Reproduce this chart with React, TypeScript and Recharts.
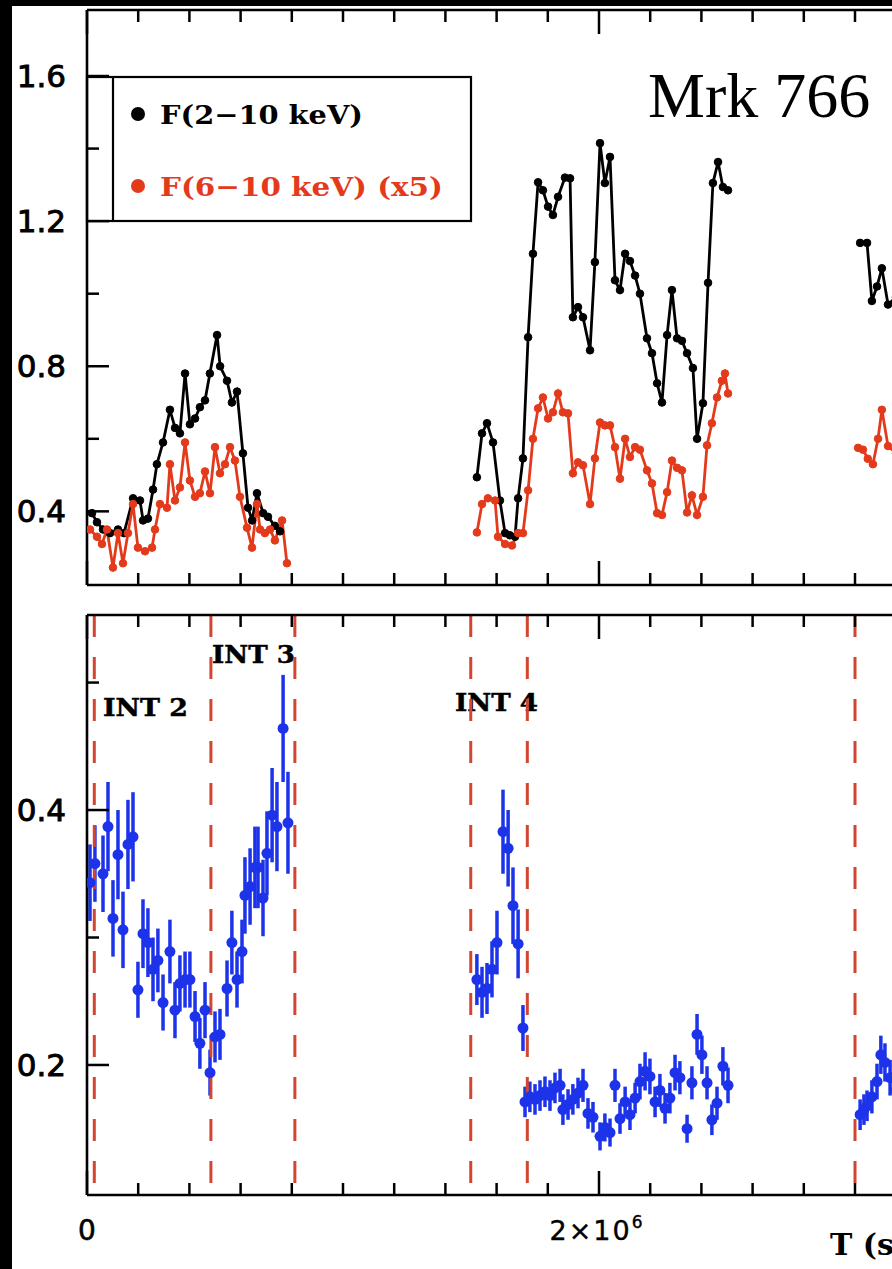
import React from 'react';
import { ComposedChart, Line, Scatter, XAxis, YAxis, ErrorBar, ReferenceLine } from 'recharts';

// ---------- data (time in ks) ----------
const blackT1 = [19.5, 39, 62.5, 90, 121, 144.5, 180, 207, 219, 238, 258, 273, 297, 324, 344, 363, 383, 402, 422, 441, 461, 480, 508, 520, 547, 566, 586, 609, 629, 645, 664, 688, 707, 734, 754];
const blackF1 = [0.395, 0.37, 0.35, 0.34, 0.35, 0.34, 0.436, 0.43, 0.375, 0.38, 0.46, 0.53, 0.59, 0.68, 0.63, 0.615, 0.78, 0.64, 0.656, 0.687, 0.706, 0.78, 0.886, 0.8, 0.76, 0.7, 0.73, 0.56, 0.41, 0.375, 0.45, 0.395, 0.385, 0.36, 0.345];
const redT1 = [11.7, 39, 58.6, 78, 101.5, 121, 140.6, 160, 179.7, 199, 226.6, 254, 265.6, 285, 312.5, 324, 343.7, 363, 383, 402, 422, 441, 461, 480.5, 500, 519.5, 539, 558.6, 578, 597.6, 625, 644.5, 664, 676, 695, 715, 734, 762, 781];
const redF1 = [0.35, 0.33, 0.31, 0.35, 0.245, 0.34, 0.257, 0.34, 0.42, 0.3, 0.29, 0.3, 0.35, 0.42, 0.41, 0.53, 0.43, 0.466, 0.59, 0.485, 0.44, 0.45, 0.51, 0.45, 0.577, 0.505, 0.53, 0.577, 0.54, 0.44, 0.355, 0.3, 0.42, 0.35, 0.34, 0.35, 0.32, 0.375, 0.257];

const blackT2 = [1523, 1543, 1562.5, 1586, 1613, 1633, 1652, 1672, 1684, 1703, 1723, 1742, 1762, 1781, 1801, 1820, 1840, 1867, 1887, 1898, 1918, 1937.5, 1965, 1984, 2004, 2023, 2043, 2062.5, 2082, 2102, 2121, 2141, 2160, 2187.5, 2207, 2227, 2246, 2266, 2285, 2305, 2324, 2344, 2367, 2383, 2406, 2426, 2445, 2465, 2484, 2504];
const blackF2 = [0.494, 0.615, 0.643, 0.59, 0.43, 0.34, 0.334, 0.33, 0.436, 0.546, 0.88, 1.11, 1.307, 1.285, 1.24, 1.217, 1.267, 1.32, 1.318, 0.935, 0.963, 0.935, 0.844, 1.087, 1.415, 1.305, 1.377, 1.037, 1.01, 1.11, 1.09, 1.05, 1.0, 0.877, 0.836, 0.753, 0.7, 0.886, 1.01, 0.877, 0.87, 0.836, 0.795, 0.6, 0.698, 1.03, 1.305, 1.363, 1.294, 1.285];
const redT2 = [1523, 1543, 1566, 1594, 1605.5, 1633, 1660, 1684, 1703, 1723, 1742, 1762, 1781, 1801, 1820, 1840, 1859, 1879, 1898, 1918, 1937.5, 1965, 1984, 2004, 2023, 2043, 2062.5, 2082, 2102, 2121, 2141, 2160, 2187.5, 2207, 2227, 2246, 2266, 2285, 2305, 2324, 2344, 2363, 2383, 2406, 2422, 2441, 2461, 2480, 2492, 2504];
const redF2 = [0.342, 0.42, 0.436, 0.43, 0.33, 0.31, 0.306, 0.34, 0.34, 0.458, 0.6, 0.684, 0.714, 0.656, 0.673, 0.725, 0.673, 0.67, 0.505, 0.535, 0.527, 0.42, 0.546, 0.645, 0.637, 0.637, 0.577, 0.49, 0.6, 0.55, 0.577, 0.57, 0.513, 0.477, 0.395, 0.39, 0.453, 0.54, 0.52, 0.513, 0.397, 0.444, 0.39, 0.44, 0.582, 0.643, 0.714, 0.76, 0.78, 0.725];

const blackT3 = [3020, 3047, 3066, 3086, 3105, 3129, 3160];
const blackF3 = [1.14, 1.14, 0.98, 1.02, 1.07, 0.97, 0.99];
const redT3 = [3012, 3031, 3050, 3070, 3090, 3105, 3129, 3160];
const redF3 = [0.575, 0.57, 0.545, 0.53, 0.6, 0.68, 0.58, 0.56];

const hrT1 = [11.7, 31, 62.5, 82, 101.5, 121, 140.6, 160, 179.7, 199, 218.7, 238, 257.8, 277, 297, 324, 343.7, 363, 383, 402, 422, 441, 461, 480.5, 500, 519.5, 547, 566, 586, 605.5, 617, 637, 656, 668, 687.5, 703, 723, 742, 766, 785];
const hrV1 = [0.343, 0.358, 0.35, 0.387, 0.315, 0.365, 0.306, 0.373, 0.379, 0.259, 0.303, 0.296, 0.275, 0.282, 0.249, 0.289, 0.243, 0.264, 0.267, 0.267, 0.238, 0.217, 0.243, 0.194, 0.222, 0.224, 0.26, 0.296, 0.267, 0.289, 0.333, 0.34, 0.355, 0.355, 0.331, 0.366, 0.396, 0.387, 0.464, 0.39];
const hrE1 = [0.03, 0.03, 0.03, 0.035, 0.03, 0.035, 0.03, 0.035, 0.035, 0.022, 0.027, 0.027, 0.025, 0.025, 0.022, 0.025, 0.022, 0.022, 0.022, 0.022, 0.02, 0.02, 0.022, 0.018, 0.02, 0.02, 0.022, 0.025, 0.022, 0.025, 0.03, 0.03, 0.032, 0.032, 0.03, 0.033, 0.037, 0.035, 0.042, 0.04];
const hrT2 = [1523, 1543, 1562.5, 1582, 1601.5, 1625, 1645, 1664, 1684, 1703, 1711, 1730, 1750, 1769.5, 1789, 1808.5, 1828, 1848, 1859, 1879, 1898, 1918, 1937.5, 1957, 1976.5, 2004, 2023, 2043, 2062.5, 2082, 2102, 2121, 2141, 2160, 2180, 2199, 2219, 2238, 2258, 2277, 2297, 2316, 2344, 2363, 2383, 2402, 2422, 2441, 2461, 2484, 2504];
const hrV2 = [0.267, 0.257, 0.26, 0.275, 0.296, 0.383, 0.37, 0.325, 0.295, 0.229, 0.171, 0.175, 0.173, 0.176, 0.179, 0.176, 0.182, 0.184, 0.165, 0.169, 0.173, 0.178, 0.184, 0.162, 0.159, 0.144, 0.151, 0.147, 0.184, 0.158, 0.171, 0.161, 0.174, 0.187, 0.195, 0.191, 0.171, 0.18, 0.166, 0.174, 0.194, 0.19, 0.15, 0.186, 0.224, 0.208, 0.186, 0.157, 0.17, 0.199, 0.184];
const hrE2 = [0.02, 0.02, 0.02, 0.022, 0.025, 0.033, 0.03, 0.03, 0.027, 0.018, 0.012, 0.012, 0.012, 0.012, 0.012, 0.012, 0.012, 0.013, 0.012, 0.012, 0.012, 0.012, 0.013, 0.012, 0.012, 0.011, 0.011, 0.011, 0.013, 0.012, 0.012, 0.012, 0.012, 0.014, 0.015, 0.014, 0.012, 0.013, 0.012, 0.012, 0.014, 0.013, 0.011, 0.013, 0.016, 0.015, 0.013, 0.012, 0.013, 0.015, 0.014];
const hrT3 = [3020, 3035, 3047, 3066, 3086, 3101, 3117, 3137, 3160];
const hrV3 = [0.161, 0.165, 0.168, 0.175, 0.187, 0.208, 0.202, 0.19, 0.18];
const hrE3 = [0.012, 0.012, 0.012, 0.013, 0.014, 0.015, 0.015, 0.014, 0.013];

const intervalBounds = [28.5, 484, 812, 1499, 1720, 3000];
const intervalLabels = [
  { text: 'INT 2', x: 103, y: 716, w: 85 },
  { text: 'INT 3', x: 212, y: 663, w: 83 },
  { text: 'INT 4', x: 455, y: 711, w: 83 },
];

const xTicks = [0, 200, 400, 600, 800, 1000, 1200, 1400, 1600, 1800, 2000, 2200, 2400, 2600, 2800, 3000, 3200, 3400, 3600];
const xMajor = [0, 2000, 4000];
const topYTicks = [0.4, 0.6, 0.8, 1.0, 1.2, 1.4, 1.6];
const topYLabels = [0.4, 0.8, 1.2, 1.6];
const botYTicks = [0.2, 0.3, 0.4, 0.5];
const botYLabels = [0.2, 0.4];

// ---------- styling ----------
const RED = '#e43a1c';
const BLUE = '#1d33ea';
const DASH = '#d24531';
const W = 1030;
const LEFT = 87;
const X_DOMAIN: [number, number] = [0, 3600];
const RIGHT = W - LEFT - 921.6;
const TOP_DOMAIN: [number, number] = [0.197, 1.782];
const BOT_DOMAIN: [number, number] = [0.098, 0.553];

const zip = (t: number[], f: number[]) => t.map((tt, i) => ({ t: tt, f: f[i] }));
const zip3 = (t: number[], v: number[], e: number[]) => t.map((tt, i) => ({ t: tt, v: v[i], e: e[i] }));

const blackSegs = [zip(blackT1, blackF1), zip(blackT2, blackF2), zip(blackT3, blackF3)];
const redSegs = [zip(redT1, redF1), zip(redT2, redF2), zip(redT3, redF3)];
const hrRows = [...zip3(hrT1, hrV1, hrE1), ...zip3(hrT2, hrV2, hrE2), ...zip3(hrT3, hrV3, hrE3)];

const makeXTick = (dir: number, labels: boolean) => (props: any) => {
  const { x, y, payload } = props;
  const v = payload.value;
  const major = xMajor.includes(v);
  const len = major ? 24 : 12;
  return (
    <g>
      <line x1={x} y1={y} x2={x} y2={y - dir * len} stroke="#000" strokeWidth={2.5} />
      {labels && v === 0 && (
        <text x={x} y={y + 45} textAnchor="middle" fontFamily="DejaVu Sans" fontSize={28} fill="#000" stroke="#000" strokeWidth={0.6}>0</text>
      )}
      {labels && v === 2000 && (
        <text x={x - 2} y={y + 45} textAnchor="middle" fontFamily="DejaVu Sans" fontSize={27} fill="#000" letterSpacing={2} stroke="#000" strokeWidth={0.4}>
          2×10<tspan dy={-12} fontSize={17}>6</tspan>
        </text>
      )}
    </g>
  );
};

const makeYTick = (labelList: number[]) => (props: any) => {
  const { x, y, payload } = props;
  const v = payload.value;
  const labeled = labelList.some((l) => Math.abs(l - v) < 1e-6);
  const len = labeled ? 22 : 12;
  return (
    <g>
      <line x1={x} y1={y} x2={x + len} y2={y} stroke="#000" strokeWidth={2.5} />
      {labeled && (
        <text x={x - 21} y={y + 11} textAnchor="end" fontFamily="DejaVu Sans" fontSize={31} fill="#000" stroke="#000" strokeWidth={0.9}>
          {v.toFixed(1)}
        </text>
      )}
    </g>
  );
};

const axisLine = { stroke: '#000', strokeWidth: 2.6 };

const TopChart = () => (
  <ComposedChart width={W} height={600} margin={{ top: 9, right: RIGHT, bottom: 14, left: LEFT - 1 }}>
    <XAxis xAxisId="b" type="number" dataKey="t" domain={X_DOMAIN} ticks={xTicks} interval={0} height={1}
      orientation="bottom" tickSize={0} tickMargin={0} tickLine={false} axisLine={axisLine} tick={makeXTick(1, false)} allowDataOverflow />
    <XAxis xAxisId="t" type="number" dataKey="t" domain={X_DOMAIN} ticks={xTicks} interval={0} height={1}
      orientation="top" tickSize={0} tickMargin={0} tickLine={false} axisLine={axisLine} tick={makeXTick(-1, false)} allowDataOverflow />
    <YAxis type="number" domain={TOP_DOMAIN} ticks={topYTicks} interval={0} width={1} tickSize={0} tickMargin={0}
      tickLine={false} axisLine={axisLine} tick={makeYTick(topYLabels)} allowDataOverflow />
    {blackSegs.map((d, i) => (
      <Line key={'b' + i} xAxisId="b" data={d} dataKey="f" stroke="#000" strokeWidth={2.8}
        dot={{ r: 3.8, fill: '#000', stroke: '#000', strokeWidth: 1 }} isAnimationActive={false} />
    ))}
    {redSegs.map((d, i) => (
      <Line key={'r' + i} xAxisId="b" data={d} dataKey="f" stroke={RED} strokeWidth={2.8}
        dot={{ r: 3.8, fill: RED, stroke: RED, strokeWidth: 1 }} isAnimationActive={false} />
    ))}
    <g>
      <rect x={87} y={77} width={384} height={144} fill="none" stroke="#000" strokeWidth={2.2} />
      <line x1={113} y1={77} x2={113} y2={221} stroke="#000" strokeWidth={2.2} />
      <circle cx={138} cy={114} r={7} fill="#000" />
      <text x={160} y={124} fontFamily="DejaVu Serif" fontWeight="bold" fontSize={26} fill="#000"
        textLength={203} lengthAdjust="spacingAndGlyphs">F(2−10 keV)</text>
      <circle cx={138} cy={186} r={7} fill={RED} />
      <text x={160} y={196} fontFamily="DejaVu Serif" fontWeight="bold" fontSize={26} fill={RED}
        textLength={283} lengthAdjust="spacingAndGlyphs">F(6−10 keV) (x5)</text>
      <text x={648} y={117} fontFamily="Liberation Serif" fontSize={64} fill="#000">Mrk 766</text>
    </g>
  </ComposedChart>
);

const BottomChart = () => (
  <ComposedChart width={W} height={1269} margin={{ top: 614, right: RIGHT, bottom: 73, left: LEFT - 1 }}>
    <XAxis xAxisId="b" type="number" dataKey="t" domain={X_DOMAIN} ticks={xTicks} interval={0} height={1}
      orientation="bottom" tickSize={0} tickMargin={0} tickLine={false} axisLine={axisLine} tick={makeXTick(1, true)} allowDataOverflow />
    <XAxis xAxisId="t" type="number" dataKey="t" domain={X_DOMAIN} ticks={xTicks} interval={0} height={1}
      orientation="top" tickSize={0} tickMargin={0} tickLine={false} axisLine={axisLine} tick={makeXTick(-1, false)} allowDataOverflow />
    <YAxis type="number" dataKey="v" domain={BOT_DOMAIN} ticks={botYTicks} interval={0} width={1} tickSize={0} tickMargin={0}
      tickLine={false} axisLine={axisLine} tick={makeYTick(botYLabels)} allowDataOverflow />
    <Scatter xAxisId="b" data={hrRows} dataKey="v" isAnimationActive={false}
      shape={(p: any) => <circle cx={p.cx} cy={p.cy} r={5.5} fill={BLUE} />}>
      <ErrorBar dataKey="e" direction="y" width={0} stroke={BLUE} strokeWidth={3.5} />
    </Scatter>
    {intervalBounds.map((t, i) => (
      <ReferenceLine key={'d' + i} xAxisId="b" segment={[{ x: t, y: BOT_DOMAIN[1] }, { x: t, y: BOT_DOMAIN[0] }]}
        stroke={DASH} strokeWidth={3} strokeDasharray="22 20" />
    ))}
    <g>
      {intervalLabels.map((l) => (
        <text key={l.text} x={l.x} y={l.y} fontFamily="DejaVu Serif" fontWeight="bold" fontSize={25} fill="#000"
          stroke="#000" strokeWidth={0.5} textLength={l.w} lengthAdjust="spacingAndGlyphs">{l.text}</text>
      ))}
      <text x={830} y={1255} fontFamily="DejaVu Serif" fontWeight="bold" fontSize={30} fill="#000">T (s)</text>
    </g>
  </ComposedChart>
);

export default function App() {
  return (
    <div style={{ position: 'fixed', left: 0, top: 0, width: 892, height: 1269, overflow: 'hidden', background: '#fff' }}>
      <div style={{ position: 'absolute', left: 0, top: 0 }}><TopChart /></div>
      <div style={{ position: 'absolute', left: 0, top: 0 }}><BottomChart /></div>
      <div style={{ position: 'absolute', left: 0, top: 0, width: 12, height: 1269, background: '#000' }} />
      <div style={{ position: 'absolute', left: 0, top: 0, width: 892, height: 6, background: '#000' }} />
    </div>
  );
}
